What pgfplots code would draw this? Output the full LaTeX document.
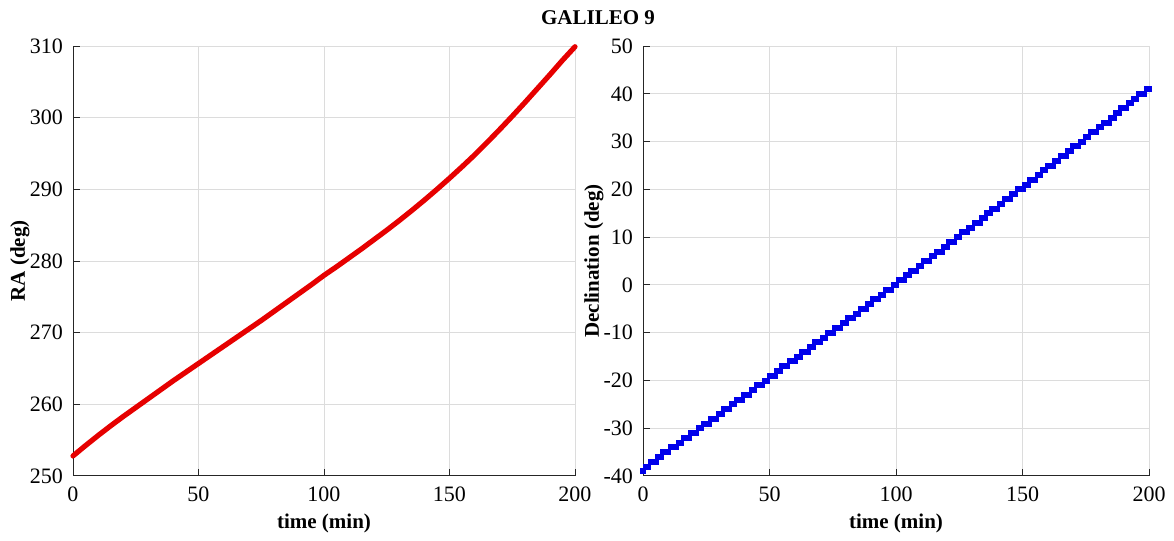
\documentclass[border=0pt]{standalone}
\usepackage{pgfplots}
\pgfplotsset{compat=1.18}
\usepackage{pgfplotstable}
\usepackage{fontspec}
\setmainfont{Liberation Serif}
\definecolor{gridc}{RGB}{220,220,220}
\definecolor{axc}{RGB}{38,38,38}
\definecolor{rac}{RGB}{230,0,0}
\definecolor{decc}{RGB}{0,0,235}

\pgfplotstableread{
t ra
0 252.8
5 254.25
10 255.65
15 257.0
20 258.3
25 259.55
30 260.8
35 262.05
40 263.3
45 264.5
50 265.7
55 266.9
60 268.1
65 269.3
70 270.5
75 271.7
80 272.95
85 274.2
90 275.45
95 276.7
100 278.0
105 279.2
110 280.45
115 281.7
120 283.0
125 284.3
130 285.65
135 287.05
140 288.5
145 290.0
150 291.55
155 293.15
160 294.8
165 296.55
170 298.35
175 300.2
180 302.1
185 304.05
190 306.0
195 308.0
200 309.9
}\ratable

\pgfplotstableread{
t dec
0 -39
1 -38
2 -38
3 -37
4 -37
5 -37
6 -36
7 -36
8 -35
9 -35
10 -35
11 -34
12 -34
13 -34
14 -33
15 -33
16 -32
17 -32
18 -32
19 -31
20 -31
21 -31
22 -30
23 -30
24 -29
25 -29
26 -29
27 -28
28 -28
29 -28
30 -27
31 -27
32 -26
33 -26
34 -26
35 -25
36 -25
37 -24
38 -24
39 -24
40 -23
41 -23
42 -23
43 -22
44 -22
45 -21
46 -21
47 -21
48 -20
49 -20
50 -19
51 -19
52 -19
53 -18
54 -18
55 -17
56 -17
57 -17
58 -16
59 -16
60 -16
61 -15
62 -15
63 -14
64 -14
65 -14
66 -13
67 -13
68 -12
69 -12
70 -12
71 -11
72 -11
73 -10
74 -10
75 -10
76 -9
77 -9
78 -9
79 -8
80 -8
81 -7
82 -7
83 -7
84 -6
85 -6
86 -5
87 -5
88 -5
89 -4
90 -4
91 -3
92 -3
93 -3
94 -2
95 -2
96 -1
97 -1
98 -1
99 0
100 0
101 1
102 1
103 1
104 2
105 2
106 3
107 3
108 3
109 4
110 4
111 5
112 5
113 5
114 6
115 6
116 7
117 7
118 7
119 8
120 8
121 9
122 9
123 9
124 10
125 10
126 11
127 11
128 11
129 12
130 12
131 13
132 13
133 13
134 14
135 14
136 15
137 15
138 16
139 16
140 16
141 17
142 17
143 18
144 18
145 18
146 19
147 19
148 20
149 20
150 20
151 21
152 21
153 22
154 22
155 22
156 23
157 23
158 24
159 24
160 25
161 25
162 25
163 26
164 26
165 27
166 27
167 27
168 28
169 28
170 29
171 29
172 29
173 30
174 30
175 31
176 31
177 32
178 32
179 32
180 33
181 33
182 34
183 34
184 34
185 35
186 35
187 36
188 36
189 37
190 37
191 37
192 38
193 38
194 39
195 39
196 40
197 40
198 40
199 41
200 41
}\dectable

\begin{document}
\begin{tikzpicture}
\pgfplotsset{
  mystyle/.style={
    scale only axis,
    width=251pt, height=215pt,
    xmin=0, xmax=200,
    xtick={0,50,100,150,200},
    axis x line*=bottom, axis y line*=left,
    axis line style={axc, line width=0.5pt},
    tick style={axc, line width=0.5pt},
    tick align=inside,
    major tick length=3.5pt,
    grid=major,
    major grid style={gridc, line width=0.5pt},
    tick label style={font=\fontsize{11}{13}\selectfont, text=black},
    xticklabel style={yshift=-2pt},
    yticklabel style={xshift=-1.5pt},
    label style={font=\fontsize{10.5}{12.5}\selectfont\bfseries},
    /pgf/number format/assume math mode=true,
    xlabel={time (min)},
    xlabel style={at={(axis description cs:0.5,-0.1093)}, anchor=center},
    clip=false,
  }
}
\path (0,0) rectangle (587pt,270.5pt);
\node[font=\fontsize{10.5}{12.5}\selectfont\bfseries] at (299pt,261.5pt) {GALILEO 9};

\begin{axis}[mystyle,
  at={(36.5pt,32.5pt)}, anchor=south west,
  ymin=250, ymax=310,
  ytick={250,260,270,280,290,300,310},
  ylabel={RA (deg)},
  ylabel style={at={(axis description cs:-0.1056,0.5)}, anchor=center},
]
\addplot[rac, line width=2.6pt, line join=round, line cap=round] table[x=t,y=ra] {\ratable};
\end{axis}

\begin{axis}[mystyle,
  at={(321.5pt,32.5pt)}, anchor=south west,
  width=253pt,
  ymin=-40, ymax=50,
  ytick={-40,-30,-20,-10,0,10,20,30,40,50},
  yticklabels={-40,-30,-20,-10,0,10,20,30,40,50},
  ylabel={Declination (deg)},
  ylabel style={at={(axis description cs:-0.097,0.5)}, anchor=center},
]
\addplot[only marks, mark=square*, mark size=1.25pt, decc, mark options={draw=decc, fill=decc}] table[x=t,y=dec] {\dectable};
\end{axis}
\end{tikzpicture}
\end{document}
